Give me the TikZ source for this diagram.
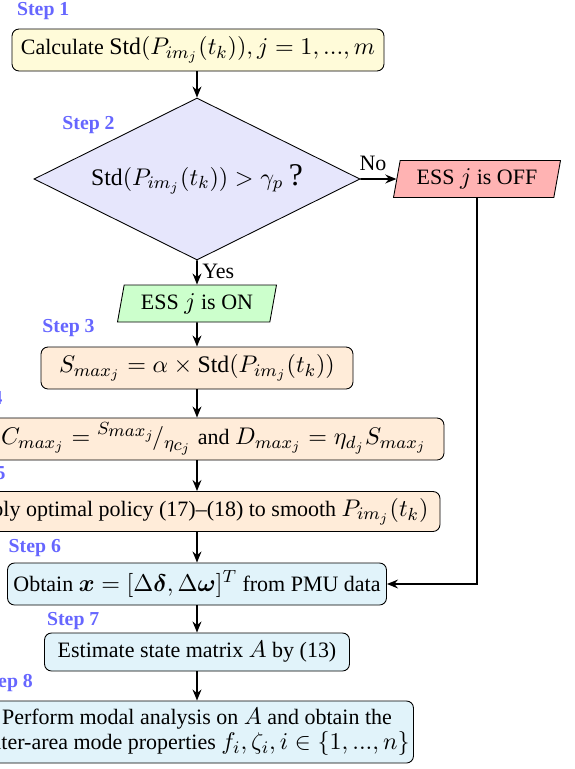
\documentclass[tikz,border=0pt]{standalone}
\usepackage{amsmath,amssymb,bm}
\usepackage{fontspec}
\setmainfont{Liberation Serif}
\usetikzlibrary{shapes.geometric,arrows.meta}
\DeclareMathSizes{10}{10.8}{7.8}{6}
\definecolor{cone}{HTML}{FFFBD9}
\definecolor{cdia}{HTML}{E6E6FC}
\definecolor{coff}{HTML}{FFB3B3}
\definecolor{con}{HTML}{CCFFCC}
\definecolor{corg}{HTML}{FFECD9}
\definecolor{ccya}{HTML}{E1F3FA}
\definecolor{cstep}{HTML}{6666FF}
\def\uu{0.455pt}
\begin{document}
\begin{tikzpicture}[x=0.455pt,y=-0.455pt,
  flow/.style={draw, rounded corners=3.2pt, align=center, inner sep=0pt, font=\fontsize{10}{10}\selectfont},
  steplbl/.style={text=cstep, font=\small\bfseries, inner sep=0pt},
  para/.style={draw, trapezium, trapezium left angle=72, trapezium right angle=108, trapezium stretches body, inner sep=0pt},
  arr/.style={thick, -{Stealth[length=5pt,width=4pt]}}]
\useasboundingbox (0,0) rectangle (574,769);
% nodes
\node[flow, fill=cone, minimum width=372*\uu, minimum height=42*\uu] (s1) at (198,50)
  {Calculate $\mathrm{Std}(P_{im_j}(t_k)), j=1,...,m$};
\node[draw, diamond, shape aspect=2, fill=cdia, minimum width=326*\uu, minimum height=162*\uu, inner sep=0pt] (d) at (197,179)
  {$\mathrm{Std}(P_{im_j}(t_k)) > \gamma_p$ {\Large ?}};
\node[para, fill=coff, minimum width=167*\uu, minimum height=37*\uu] (off) at (477,179) {ESS $j$ is OFF};
\node[para, fill=con, minimum width=159*\uu, minimum height=37*\uu] (on) at (197,303.5) {ESS $j$ is ON};
\node[flow, fill=corg, minimum width=312*\uu, minimum height=42*\uu] (s3) at (197,368)
  {$S_{max_j} = \alpha \times \mathrm{Std}(P_{im_j}(t_k))$};
\node[flow, fill=corg, minimum width=494*\uu, minimum height=42*\uu] (s4) at (197,439)
  {Set $C_{max_j} = {}^{\scriptstyle S_{\scriptstyle max_j}}\!/_{\scriptstyle \eta_{\scriptstyle c_j}}$ and $D_{max_j} = \eta_{d_j} S_{max_j}$};
\node[flow, fill=corg, minimum width=486*\uu, minimum height=40*\uu] (s5) at (197,511.5)
  {Apply optimal policy (17)--(18) to smooth $P_{im_j}(t_k)$};
\node[flow, fill=ccya, minimum width=379*\uu, minimum height=42*\uu] (s6) at (197,584)
  {Obtain $\boldsymbol{x} = [\Delta\boldsymbol{\delta}, \Delta\boldsymbol{\omega}]^T$ from PMU data};
\node[flow, fill=ccya, minimum width=305*\uu, minimum height=38*\uu] (s7) at (197,652)
  {Estimate state matrix $A$ by (13)};
\node[flow, fill=ccya, minimum width=433*\uu, minimum height=62*\uu] (s8) at (197,732)
  {Perform modal analysis on $A$ and obtain the\\ inter-area mode properties $f_i, \zeta_i, i \in \{1, ..., n\}$};
% step labels
\node[steplbl, anchor=base west] (l1) at (16.7,15) {Step 1};
\node[steplbl, anchor=base west] (l2) at (62,129) {Step 2};
\node[steplbl, anchor=base west] (l3) at (42,332.7) {Step 3};
\node[steplbl, anchor=base east] (l4) at (3,404) {Step 4};
\node[steplbl, anchor=base east] (l5) at (6,479) {Step 5};
\node[steplbl, anchor=base west] (l6) at (8.3,552.7) {Step 6};
\node[steplbl, anchor=base west] (l7) at (46.7,625) {Step 7};
\node[steplbl, anchor=base east] (l8) at (33.3,687) {Step 8};
% connectors
\draw[arr] (s1.south -| d.north) -- (d.north);
\draw[arr] (d.east) -- node[above, pos=0.35, font=\fontsize{10}{10}\selectfont] {No} (off);
\draw[arr] (d.south) -- node[right, pos=0.45, inner sep=2pt, font=\fontsize{10}{10}\selectfont] {Yes} (on);
\draw[arr] (on) -- (s3);
\draw[arr] (s3) -- (s4);
\draw[arr] (s4) -- (s5);
\draw[arr] (s5) -- (s6);
\draw[arr] (s6) -- (s7);
\draw[arr] (s7) -- (s8);
\draw[arr] (off.south) |- (s6.east);
\end{tikzpicture}
\end{document}
